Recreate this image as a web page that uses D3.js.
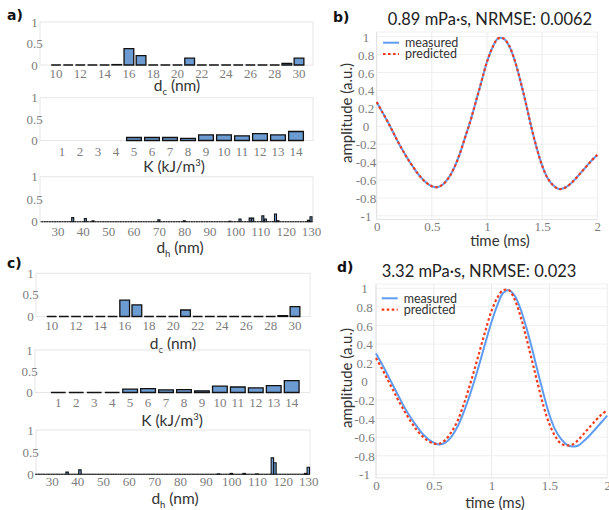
<!DOCTYPE html>
<html><head><meta charset="utf-8">
<script src="https://cdn.jsdelivr.net/npm/d3@7"></script>
<style>body{margin:0;background:#fff}svg{display:block}</style>
</head><body><svg id="c" width="609" height="510"></svg>
<script>
// ---------------- DATA ----------------
const dcCats = [10,11,12,13,14,15,16,17,18,19,20,21,22,23,24,25,26,27,28,29,30];
const dcTicks = [10,12,14,16,18,20,22,24,26,28,30];
const dcValsA = [0,0,0,0,0,0.01,0.38,0.22,0,0,0,0.16,0,0,0,0,0,0,0,0.04,0.16];
const dcValsC = [0,0,0,0,0,0,0.38,0.27,0,0,0,0.15,0,0,0,0,0,0,0,0.02,0.23];

const kCats = [1,2,3,4,5,6,7,8,9,10,11,12,13,14];
const kValsA = [null,null,null,null,0.07,0.07,0.07,0.05,0.13,0.13,0.11,0.16,0.13,0.21];
const kValsC = [0,0,0,0,0.08,0.09,0.06,0.07,0.04,0.15,0.13,0.11,0.16,0.28];

const dhBins = d3.range(24, 131);           // 1 nm bins
const dhTicks = [30,40,50,60,70,80,90,100,110,120,130];
const dhNonZeroA = {36:0.09,41:0.07,44:0.02,70:0.04,80:0.02,98:0.01,102:0.06,106:0.08,107:0.08,111:0.13,112:0.06,116:0.17,117:0.02,129:0.03,130:0.11};
const dhNonZeroC = {36:0.05,41:0.10,95:0.01,100:0.02,105:0.02,110:0.01,116:0.37,117:0.26,129:0.02,130:0.16};

const timeB = [0,0.05,0.1,0.15,0.2,0.25,0.3,0.35,0.4,0.45,0.5,0.55,0.6,0.65,0.7,0.75,0.8,0.85,0.9,0.95,1.0,1.05,1.1,1.15,1.2,1.25,1.3,1.35,1.4,1.45,1.5,1.55,1.6,1.65,1.7,1.75,1.8,1.85,1.9,1.95,2.0];
const measuredB = [0.27,0.16,0.05,-0.07,-0.19,-0.30,-0.40,-0.49,-0.57,-0.63,-0.67,-0.68,-0.65,-0.58,-0.47,-0.32,-0.13,0.06,0.28,0.50,0.72,0.88,0.98,0.98,0.90,0.74,0.52,0.27,0.0,-0.24,-0.44,-0.58,-0.66,-0.70,-0.69,-0.65,-0.59,-0.52,-0.45,-0.38,-0.32];
const predictedB = [0.27,0.16,0.05,-0.07,-0.19,-0.30,-0.40,-0.49,-0.57,-0.63,-0.67,-0.68,-0.65,-0.58,-0.47,-0.32,-0.13,0.06,0.28,0.50,0.72,0.88,0.98,0.98,0.90,0.74,0.52,0.27,0.0,-0.24,-0.44,-0.58,-0.66,-0.70,-0.69,-0.65,-0.59,-0.52,-0.45,-0.38,-0.32];

const timeD = timeB;
const measuredD = [0.30,0.19,0.07,-0.05,-0.17,-0.29,-0.39,-0.48,-0.56,-0.62,-0.66,-0.68,-0.66,-0.60,-0.50,-0.36,-0.19,0.0,0.21,0.43,0.64,0.82,0.95,0.98,0.92,0.78,0.58,0.35,0.10,-0.14,-0.36,-0.52,-0.62,-0.68,-0.70,-0.69,-0.64,-0.58,-0.51,-0.44,-0.37];
const predictedD = [0.25,0.14,0.02,-0.10,-0.22,-0.33,-0.43,-0.52,-0.59,-0.64,-0.67,-0.67,-0.63,-0.55,-0.44,-0.28,-0.09,0.12,0.34,0.56,0.76,0.90,0.98,0.98,0.88,0.70,0.47,0.22,-0.03,-0.27,-0.46,-0.59,-0.67,-0.69,-0.68,-0.63,-0.56,-0.49,-0.42,-0.36,-0.31];

const yTicksHist = [0,0.5,1];
const ampTicks = [-1,-0.8,-0.6,-0.4,-0.2,0,0.2,0.4,0.6,0.8,1];
const timeTicks = [0,0.5,1,1.5,2];

// ---------------- DRAW ----------------
const svg = d3.select('#c');
const SERIF = "'Liberation Serif','DejaVu Serif',serif";
const SANS = "Lato,'Open Sans',sans-serif";
const BAR = '#6b9bd1';

function barPath(x, w, y0, y) { return `M${x},${y0}V${y}H${x+w}V${y0}Z`; }

function yAxisHist(g, left, y, labelX) {
  g.selectAll('.yt').data(yTicksHist).join('text')
    .attr('x', labelX).attr('y', d => y(d)).attr('dy', '0.35em')
    .attr('text-anchor', 'middle').attr('font-family', SERIF).attr('font-size', 13)
    .attr('fill', '#7d7d7d').text(d => d);
}

function frame(g, l, r, t, b) {
  g.append('rect').attr('x', l).attr('y', t).attr('width', r - l).attr('height', b - t)
    .attr('fill', 'none').attr('stroke', '#e6e6e6').attr('stroke-width', 1);
}

function axisTitle(g, x, y, main, sub, sup, rest) {
  const t = g.append('text').attr('x', x).attr('y', y).attr('text-anchor', 'middle')
    .attr('font-family', SANS).attr('font-size', 15.5).attr('fill', '#333');
  t.append('tspan').text(main);
  if (sub) t.append('tspan').attr('font-size', 9.5).attr('dy', 4).text(sub);
  if (sup) t.append('tspan').attr('font-size', 9.5).attr('dy', -6).text(sup);
  t.append('tspan').attr('dy', sub ? -4 : (sup ? 6 : 0)).text(rest);
}

function catPanel(p) {
  const g = svg.append('g');
  const n = p.cats.length;
  const step = (p.cLast - p.cFirst) / (n - 1);
  const x = d3.scaleBand().domain(p.cats).range([p.cFirst - step / 2, p.cLast + step / 2])
    .paddingInner(p.pad).paddingOuter(p.pad / 2);
  const y = d3.scaleLinear().domain([0, 1]).range([p.y0, p.y1]);
  frame(g, p.left, p.right, p.y1, p.y0);
  yAxisHist(g, p.left, y, p.left - 5.5);
  const data = p.cats.map((c, i) => ({ c, v: p.vals[i] })).filter(d => d.v !== null);
  g.selectAll('path.bar').data(data).join('path').attr('class', 'bar')
    .attr('d', d => barPath(x(d.c), x.bandwidth(), y(0), y(d.v)))
    .attr('fill', BAR).attr('stroke', '#111').attr('stroke-width', 1.3);
  const ax = g.append('g').attr('transform', `translate(0,${p.labelY})`)
    .call(d3.axisBottom(x).tickValues(p.ticks).tickSize(0).tickPadding(0));
  ax.select('.domain').remove();
  ax.selectAll('text').attr('font-family', SERIF).attr('font-size', 13).attr('fill', '#7d7d7d').attr('dy', '0.35em');
  axisTitle(g, p.titleX, p.titleY, p.tMain, p.tSub, p.tSup, p.tRest);
}

function dhPanel(p) {
  const g = svg.append('g');
  const x = d3.scaleLinear().domain([30, 130]).range([p.cFirst, p.cLast]);
  const step = x(31) - x(30);
  const y = d3.scaleLinear().domain([0, 1]).range([p.y0, p.y1]);
  frame(g, p.left, p.right, p.y1, p.y0);
  g.append('line').attr('x1', p.left).attr('x2', p.right).attr('y1', p.y0).attr('y2', p.y0)
    .attr('stroke', '#999').attr('stroke-width', 1);
  yAxisHist(g, p.left, y, p.left - 5.5);
  const w = step * (1 - p.pad);
  const data = dhBins.map(b => ({ b, v: p.vals[b] || 0 }));
  g.selectAll('path.bar').data(data).join('path').attr('class', 'bar')
    .attr('d', d => barPath(x(d.b) - w / 2, w, y(0), y(d.v)))
    .attr('fill', BAR).attr('stroke', '#111').attr('stroke-width', 1.1);
  const ax = g.append('g').attr('transform', `translate(0,${p.labelY})`)
    .call(d3.axisBottom(x).tickValues(dhTicks).tickSize(0).tickPadding(0).tickFormat(d3.format('d')));
  ax.select('.domain').remove();
  ax.selectAll('text').attr('font-family', SERIF).attr('font-size', 13).attr('fill', '#7d7d7d').attr('dy', '0.35em');
  axisTitle(g, p.titleX, p.titleY, 'd', 'h', null, ' (nm)');
}

function letter(x, y, t) {
  svg.append('text').attr('x', x).attr('y', y).attr('font-family', "'DejaVu Sans',sans-serif")
    .attr('font-weight', 'bold').attr('font-size', 14).attr('fill', '#111').text(t);
}

// left column, panel a
letter(7, 20, 'a)');
catPanel({cats: dcCats, vals: dcValsA, ticks: dcTicks, left: 40, right: 313, y0: 65, y1: 22, cFirst: 56, cLast: 299, pad: 0.2, labelY: 73, titleX: 177, titleY: 91, tMain: 'd', tSub: 'c', tRest: ' (nm)'});
catPanel({cats: kCats, vals: kValsA, ticks: kCats, left: 40, right: 313, y0: 140.5, y1: 97.7, cFirst: 62, cLast: 296, pad: 0.18, labelY: 151.7, titleX: 174, titleY: 171.5, tMain: 'K (kJ/m', tSup: '3', tRest: ')'});
dhPanel({vals: dhNonZeroA, left: 40, right: 313, y0: 221.7, y1: 176.7, cFirst: 57.5, cLast: 311, pad: 0.2, labelY: 231, titleX: 180, titleY: 252.5});

// panel c
letter(7, 268, 'c)');
catPanel({cats: dcCats, vals: dcValsC, ticks: dcTicks, left: 36, right: 310, y0: 316.5, y1: 273.3, cFirst: 51.7, cLast: 295, pad: 0.2, labelY: 325, titleX: 173, titleY: 348.5, tMain: 'd', tSub: 'c', tRest: ' (nm)'});
catPanel({cats: kCats, vals: kValsC, ticks: kCats, left: 35, right: 310, y0: 392.5, y1: 350, cFirst: 58.3, cLast: 291.7, pad: 0.18, labelY: 402.7, titleX: 172, titleY: 425.5, tMain: 'K (kJ/m', tSup: '3', tRest: ')'});
dhPanel({vals: dhNonZeroC, left: 36, right: 310, y0: 474.3, y1: 430, cFirst: 51.7, cLast: 308.3, pad: 0.05, labelY: 481.7, titleX: 175, titleY: 503.5});

// right column
function wavePanel(p) {
  const g = svg.append('g');
  const x = d3.scaleLinear().domain([0, 2]).range([p.xl, p.xr]);
  const y = d3.scaleLinear().domain([-1, 1]).range([p.yb, p.yt]);
  // grid
  g.selectAll('.hg').data(ampTicks).join('line').attr('x1', p.xl).attr('x2', p.xr)
    .attr('y1', d => y(d)).attr('y2', d => y(d)).attr('stroke', '#f0f0f0');
  g.selectAll('.vg').data(timeTicks).join('line').attr('x1', d => x(d)).attr('x2', d => x(d))
    .attr('y1', p.ft).attr('y2', p.fb).attr('stroke', '#ececec');
  g.append('line').attr('x1', p.xl).attr('x2', p.xl).attr('y1', p.ft).attr('y2', p.fb).attr('stroke', '#e2e2e2');
  g.append('line').attr('x1', p.xl).attr('x2', p.xr).attr('y1', p.fb).attr('y2', p.fb).attr('stroke', '#e2e2e2');
  g.append('line').attr('x1', p.xl).attr('x2', p.xr).attr('y1', p.ft).attr('y2', p.ft).attr('stroke', '#f0f0f0');
  // axes labels
  const fmt = d => String(+d.toFixed(1));
  const ax = g.append('g').attr('transform', `translate(0,${p.xLabelY})`)
    .call(d3.axisBottom(x).tickValues(timeTicks).tickSize(0).tickPadding(0).tickFormat(fmt));
  ax.select('.domain').remove();
  ax.selectAll('text').attr('font-family', SERIF).attr('font-size', 13).attr('fill', '#7d7d7d').attr('dy', '0.35em');
  const ay = g.append('g').attr('transform', `translate(${p.yLabelX},0)`)
    .call(d3.axisLeft(y).tickValues(ampTicks).tickSize(0).tickPadding(0).tickFormat(fmt));
  ay.select('.domain').remove();
  ay.selectAll('text').attr('font-family', SERIF).attr('font-size', 13).attr('fill', '#7d7d7d')
    .attr('text-anchor', 'middle').attr('dy', '0.35em');
  // lines
  const line = d3.line().x(d => x(d[0])).y(d => y(d[1])).curve(d3.curveCatmullRom);
  g.append('path').datum(p.t.map((t, i) => [t, p.m[i]])).attr('d', line)
    .attr('fill', 'none').attr('stroke', '#5e9cf2').attr('stroke-width', 2);
  g.append('path').datum(p.t.map((t, i) => [t, p.p[i]])).attr('d', line)
    .attr('fill', 'none').attr('stroke', '#f53a1c').attr('stroke-width', 2.2).attr('stroke-dasharray', '2.6,2.4');
  // legend
  const lg = g.append('g');
  lg.append('line').attr('x1', p.lgx).attr('x2', p.lgx + 16).attr('y1', p.lgy).attr('y2', p.lgy)
    .attr('stroke', '#5e9cf2').attr('stroke-width', 2);
  lg.append('line').attr('x1', p.lgx).attr('x2', p.lgx + 16).attr('y1', p.lgy + 11.3).attr('y2', p.lgy + 11.3)
    .attr('stroke', '#f53a1c').attr('stroke-width', 2.2).attr('stroke-dasharray', '2.6,2.4');
  lg.append('text').attr('x', p.lgx + 22).attr('y', p.lgy).attr('dy', '0.35em').attr('font-family', SANS)
    .attr('font-size', 12.5).attr('fill', '#333').text('measured');
  lg.append('text').attr('x', p.lgx + 22).attr('y', p.lgy + 11.3).attr('dy', '0.35em').attr('font-family', SANS)
    .attr('font-size', 12.5).attr('fill', '#333').text('predicted');
  // titles
  g.append('text').attr('x', p.titleX).attr('y', p.titleY).attr('text-anchor', 'middle')
    .attr('font-family', SANS).attr('font-size', 16.5).attr('fill', '#222').text(p.title);
  g.append('text').attr('x', p.xtX).attr('y', p.xtY).attr('dy', '0.35em').attr('text-anchor', 'middle')
    .attr('font-family', SANS).attr('font-size', 15).attr('fill', '#333').text('time (ms)');
  g.append('text').attr('transform', `translate(${p.ytX},${p.ytY}) rotate(-90)`).attr('dy', '0.35em')
    .attr('text-anchor', 'middle').attr('font-family', SANS).attr('font-size', 15).attr('fill', '#333')
    .text('amplitude (a.u.)');
}

letter(333, 22, 'b)');
wavePanel({t: timeB, m: measuredB, p: predictedB, xl: 376.7, xr: 597.3, yt: 36.7, yb: 215.8, ft: 32, fb: 219.5,
  xLabelY: 226, yLabelX: 366, lgx: 383, lgy: 42.7, title: '0.89 mPa·s, NRMSE: 0.0062', titleX: 490, titleY: 25,
  xtX: 500, xtY: 240.5, ytX: 346.5, ytY: 113});
letter(337, 272, 'd)');
wavePanel({t: timeD, m: measuredD, p: predictedD, xl: 376, xr: 607.2, yt: 288.3, yb: 474.3, ft: 284, fb: 478,
  xLabelY: 485.7, yLabelX: 364.5, lgx: 381.7, lgy: 298.3, title: '3.32 mPa·s, NRMSE: 0.023', titleX: 479, titleY: 277,
  xtX: 495, xtY: 503, ytX: 346.5, ytY: 378});
</script></body></html>
